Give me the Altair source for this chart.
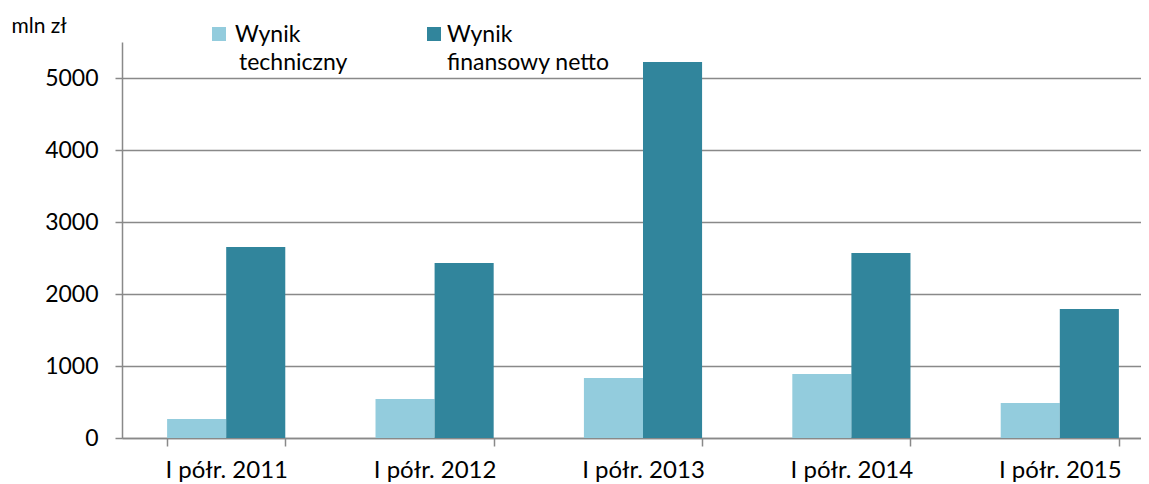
import altair as alt
import pandas as pd

periods = ["I półr. 2011", "I półr. 2012", "I półr. 2013", "I półr. 2014", "I półr. 2015"]
series = ["Wynik techniczny", "Wynik finansowy netto"]
legend_lines = [["Wynik", "techniczny"], ["Wynik", "finansowy netto"]]
wynik_techniczny = [264, 542, 833, 889, 486]
wynik_finansowy_netto = [2653, 2430, 5222, 2569, 1792]
y_ticks = [0, 1000, 2000, 3000, 4000, 5000]
colors = ["#93CCDD", "#31859C"]

rows = []
for p, t, n in zip(periods, wynik_techniczny, wynik_finansowy_netto):
    rows.append({"okres": p, "seria": series[0], "wartosc": t})
    rows.append({"okres": p, "seria": series[1], "wartosc": n})
df = pd.DataFrame(rows)

FONT = "Lato"
GRID = "#898989"
FS = 23

color_scale = alt.Scale(domain=series, range=colors)

bars = alt.Chart(df).mark_bar().encode(
    x=alt.X(
        "okres:N", sort=periods,
        scale=alt.Scale(paddingInner=0.433, paddingOuter=0.1613, align=0.671),
        axis=alt.Axis(title=None, labelAngle=0, tickBand="extent", tickSize=8,
                      labelPadding=12, domainColor=GRID, tickColor=GRID,
                      domainWidth=1.5, tickWidth=1.5, labelFont=FONT,
                      labelFontSize=24, labelColor="#000000", grid=False),
    ),
    xOffset=alt.XOffset("seria:N", sort=series,
                        scale=alt.Scale(paddingInner=0, paddingOuter=0)),
    y=alt.Y(
        "wartosc:Q",
        scale=alt.Scale(domain=[0, 5500], nice=False),
        axis=alt.Axis(values=y_ticks, format="d", title="mln zł", titleAngle=0,
                      titleX=-111, titleY=-10, titleAlign="left",
                      titleBaseline="alphabetic", titleFont=FONT,
                      titleFontSize=21, titleFontWeight="normal",
                      titleColor="#000000", tickSize=7, labelPadding=17,
                      labelFont=FONT, labelFontSize=FS, labelColor="#000000",
                      domainColor=GRID, tickColor=GRID, gridColor=GRID,
                      domainWidth=1.5, tickWidth=1.5, gridWidth=1.5),
    ),
    color=alt.Color("seria:N", sort=series, scale=color_scale, legend=None),
)

# custom legend (guide), placed above the plot area
legend_layers = []
sw_x = [97, 312]
tx_first = [113, 325]
tx_second = [117, 325]
for i, s in enumerate(series):
    ld = pd.DataFrame({"seria": [s]})
    legend_layers.append(
        alt.Chart(ld).mark_square(size=196, opacity=1).encode(
            x=alt.value(sw_x[i]), y=alt.value(-8),
            color=alt.Color("seria:N", scale=color_scale, legend=None),
        )
    )
    legend_layers.append(
        alt.Chart(ld).mark_text(align="left", baseline="alphabetic", font=FONT,
                                fontSize=FS, color="#000000").encode(
            x=alt.value(tx_first[i]), y=alt.value(0),
            text=alt.value(legend_lines[i][0]),
        )
    )
    legend_layers.append(
        alt.Chart(ld).mark_text(align="left", baseline="alphabetic", font=FONT,
                                fontSize=FS, color="#000000").encode(
            x=alt.value(tx_second[i]), y=alt.value(28),
            text=alt.value(legend_lines[i][1]),
        )
    )

chart = alt.layer(bars, *legend_layers).properties(
    width=1019, height=396,
    autosize=alt.AutoSizeParams(type="none"),
    padding={"left": 114, "top": 34, "right": 0, "bottom": 46},
).configure_view(stroke=None)

chart.save("out.html", embed_options={"renderer": "svg", "actions": False})
